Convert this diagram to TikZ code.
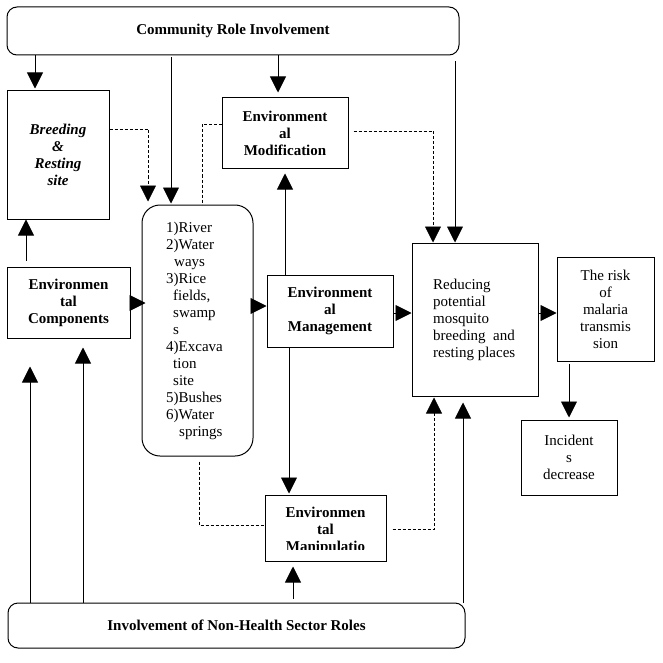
\documentclass[tikz,border=0pt]{standalone}
\usepackage{fontspec}
\setmainfont{Liberation Serif}
\usetikzlibrary{arrows.meta}
\begin{document}
\begin{tikzpicture}[x=1pt,y=-1pt,
  box/.style={draw, line width=1pt, inner sep=0pt, align=center, font=\fontsize{15}{17}\selectfont},
  bbox/.style={box, font=\fontsize{15}{17}\selectfont\bfseries},
  tip/.style={-{Triangle[length=16pt,width=16pt]}},
  arr/.style={line width=0.9pt, tip},
  dsh/.style={line width=0.8pt, dash pattern=on 3pt off 2pt},
  txt/.style={inner sep=0pt, font=\fontsize{15}{17}\selectfont}]
\useasboundingbox[fill=white] (0,0) rectangle (662,663);

% boxes
\node[bbox, minimum width=452pt, minimum height=48pt, rounded corners=10pt] (top) at (233,31) {Community Role Involvement};
\node[box, minimum width=102pt, minimum height=128pt, font=\fontsize{15}{17}\selectfont\bfseries\itshape] (breed) at (58,155) {Breeding\\\&\\Resting\\site};
\node[bbox, minimum width=123pt, minimum height=71pt] (comp) at (68.5,302.5) {Environmen\\tal\\Components};
\node[box, minimum width=111pt, minimum height=251pt, rounded corners=18pt] (list) at (197.5,330.5) {};
\node[txt, anchor=west, align=left] (listtxt) at (166,331) {1)River\\2)Water\\\hspace*{8pt}ways\\3)Rice\\\hspace*{7pt}fields,\\\hspace*{7pt}swamp\\\hspace*{7pt}s\\4)Excava\\\hspace*{7pt}tion\\\hspace*{7pt}site\\5)Bushes\\6)Water\\\hspace*{13pt}springs};
\node[bbox, minimum width=126pt, minimum height=71pt] (mod) at (285,133.5) {Environment\\al\\Modification};
\node[bbox, minimum width=126pt, minimum height=72pt] (mgmt) at (330,311) {Environment\\al\\Management};
\node[box, minimum width=126pt, minimum height=153pt] (reduce) at (475,319.5) {};
\node[txt, anchor=west, align=left] (reducetxt) at (433,320) {Reducing\\potential\\mosquito\\breeding\ \ and\\resting places};
\node[box, minimum width=97pt, minimum height=104pt] (risk) at (605.5,309) {The risk\\of\\malaria\\transmis\\sion};
\node[box, minimum width=96pt, minimum height=75pt] (inc) at (569,457.5) {Incident\\s\\decrease};
\node[box, minimum width=121pt, minimum height=66pt] (manip) at (325.5,528) {};
\begin{scope}
  \clip (265,496) rectangle (386,549.5);
  \node[txt, font=\fontsize{15}{17}\selectfont\bfseries, align=center] (maniptxt) at (325.5,531) {Environmen\\tal\\Manipulatio};
\end{scope}
\node[bbox, minimum width=457pt, minimum height=45pt, rounded corners=10pt] (bottom) at (236.5,625.5) {Involvement of Non-Health Sector Roles};

% solid connectors
\draw[arr, shorten >=2pt] (top.south -| 35,0) -- (breed.north -| 35,0);
\draw[arr, shorten <=2pt, shorten >=1pt] (top.south -| 171,0) -- (list.north -| 171,0);
\draw[arr, shorten >=5pt] (top.south -| 278,0) -- (mod.north -| 278,0);
\draw[arr, shorten <=6pt] (top.south -| 455,0) -- (reduce.north -| 455,0);
\draw[arr, shorten <=6pt] (comp.north -| 26,0) -- (breed.south -| 26,0);
\draw[arr, shorten >=-4pt] (comp.east |- 0,303) -- (list.west |- 0,303);
\draw[arr] (list.east |- 0,306) -- (mgmt.west |- 0,306);
\draw[arr, shorten >=4pt] (mgmt.north -| 285,0) -- (mod.south -| 285,0);
\draw[arr, shorten >=1pt] (mgmt.south -| 289,0) -- (manip.north -| 289,0);
\draw[arr] (mgmt.east |- 0,313) -- (reduce.west |- 0,313);
\draw[arr] (reduce.east |- 0,313) -- (risk.west |- 0,313);
\draw[arr, shorten <=2pt, shorten >=2pt] (risk.south -| 569,0) -- (inc.north -| 569,0);
\draw[arr, shorten <=4pt, shorten >=5pt] (bottom.north -| 293,0) -- (manip.south -| 293,0);
\draw[arr, shorten >=6pt] (bottom.north -| 463,0) -- (reduce.south -| 463,0);
\draw[arr, shorten >=28pt] (bottom.north -| 30,0) -- (comp.south -| 30,0);
\draw[arr, shorten >=9pt] (bottom.north -| 83,0) -- (comp.south -| 83,0);

% dashed connectors
\draw[dsh, tip, shorten >=3pt] (breed.east |- 0,129) -| (list.north -| 148,0);
\draw[dsh] (mod.west |- 0,124) -| (list.north -| 202,0);
\draw[dsh, tip, shorten <=5pt] (mod.east |- 0,131) -| (reduce.north -| 433,0);
\draw[dsh, shorten <=5pt] (list.south -| 199,0) |- (manip.west |- 0,525);
\draw[dsh, tip, shorten <=6pt, shorten >=1pt] (manip.east |- 0,529) -| (reduce.south -| 434,0);
\end{tikzpicture}
\end{document}
